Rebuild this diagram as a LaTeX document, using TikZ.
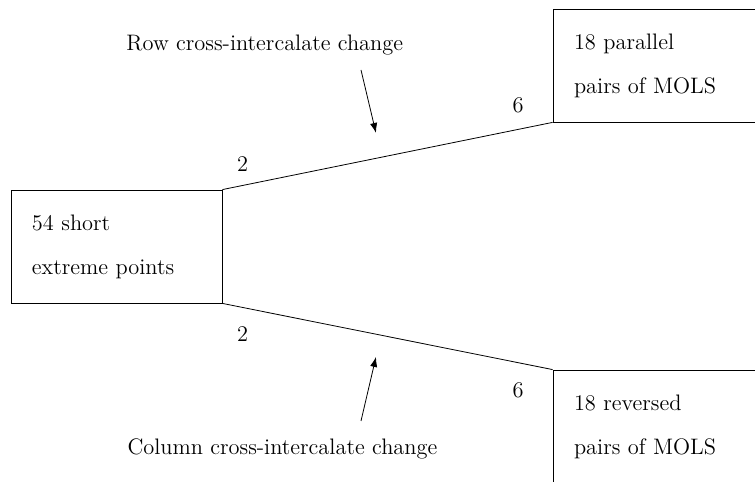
\documentclass[tikz,border=0pt]{standalone}
\usetikzlibrary{arrows.meta}
\begin{document}
\begin{tikzpicture}[txt/.style={font=\fontsize{11.2}{22}\selectfont},box/.style={draw, txt, align=left, text width=84.5pt, inner xsep=10.5pt, minimum width=3.708cm, minimum height=1.986cm},num/.style={txt, inner sep=0pt},pointer/.style={-{Latex[length=5pt,width=3.6pt]}}]
\path[use as bounding box, clip] (0,0) rectangle (13.268,8.470);
\node[box] (short) at (2.047,4.138) {54 short\\extreme points};
\node[box] (par) at (11.572,7.319) {18 parallel\\pairs of MOLS};
\node[box] (rev) at (11.572,0.975) {18 reversed\\pairs of MOLS};
\draw (short.north east) -- (par.south west); \draw (short.south east) -- (rev.north west);
\node[num] (twoup) at (4.262,5.586) {2}; \node[num] (twodown) at (4.262,2.597) {2};
\node[num] (sixup) at (9.103,6.625) {6}; \node[num] (sixdown) at (9.103,1.617) {6};
\node[txt, anchor=base] (rowlab) at (4.653,7.580) {Row cross-intercalate change};
\node[txt, anchor=base] (collab) at (4.963,0.475) {Column cross-intercalate change};
\coordinate (rowtail) at (6.344,7.240); \coordinate (rowhead) at (6.607,6.133);
\coordinate (coltail) at (6.344,1.072); \coordinate (colhead) at (6.607,2.197);
\draw[pointer] (rowtail) -- (rowhead); \draw[pointer] (coltail) -- (colhead);
\end{tikzpicture}
\end{document}
